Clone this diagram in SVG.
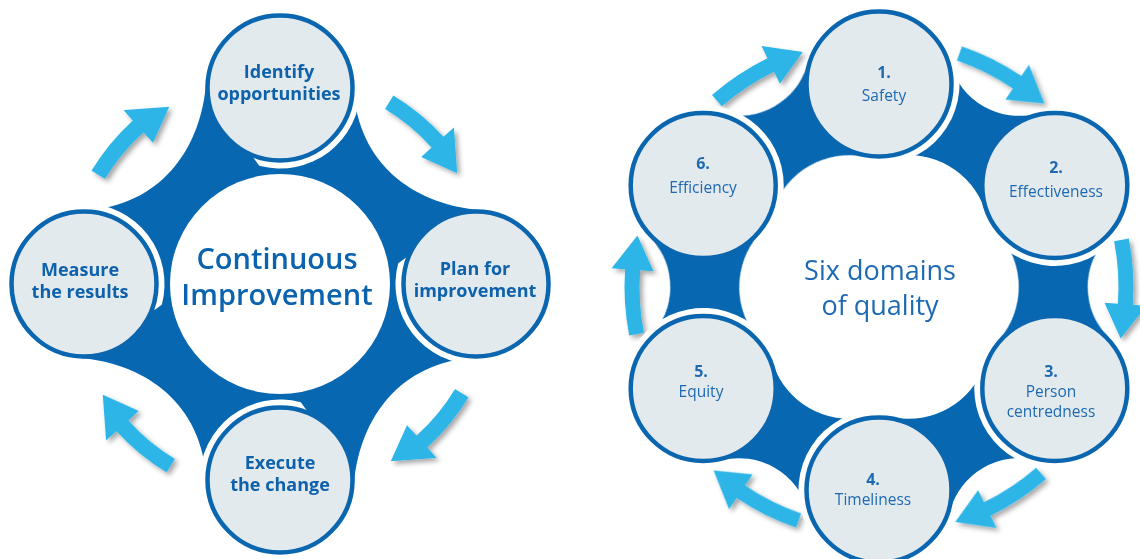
<svg xmlns="http://www.w3.org/2000/svg" xmlns:xlink="http://www.w3.org/1999/xlink" width="1140" height="559" viewBox="0 0 1140 559">
  <defs>
    <style>
      .blue{fill:#0767b1}
      .node{fill:#e3eaee;stroke:#0b66b0;stroke-width:4.5}
      .ring{fill:#ffffff}
      .arrow{fill:#2db5e8}
      .lbl{font-family:"Open Sans","Liberation Sans",sans-serif;font-weight:700;font-size:18px;fill:#0d62ab;text-anchor:middle}
      .num{font-family:"Open Sans","Liberation Sans",sans-serif;font-weight:700;font-size:16px;fill:#1d6ab2;text-anchor:middle}
      .dom{font-family:"Open Sans","Liberation Sans",sans-serif;font-weight:400;font-size:15.5px;fill:#1d6ab2;text-anchor:middle}
      .ttl1{font-family:"Open Sans","Liberation Sans",sans-serif;font-weight:600;font-size:29px;fill:#0b63ad;text-anchor:middle}
      .ttl2{font-family:"Open Sans","Liberation Sans",sans-serif;font-weight:400;font-size:27px;fill:#1d6ab2;text-anchor:middle}
    </style>
    <filter id="shadow" x="-20%" y="-20%" width="150%" height="150%">
      <feDropShadow dx="3" dy="3" stdDeviation="2.5" flood-color="#000" flood-opacity="0.35"/>
    </filter>
    <!-- curved arrow of the four-step cycle (upper-right position) -->
    <path id="arrowL" d="M393.3 95.4 A220 220 0 0 1 443.5 136.8 L453.9 127.4 L457.2 173.3 L421.2 156.9 L431.6 147.5 A204 204 0 0 0 385.1 109.1 Z"/>
    <!-- curved arrow of the six-domain ring (right position) -->
    <path id="arrowR" d="M1128.8 238.4 A254.5 254.5 0 0 1 1132.9 304.8 L1146.4 305.7 L1120.6 338.4 L1104.5 302.8 L1117.9 303.7 A239.5 239.5 0 0 0 1114.1 241.3 Z"/>
    <!-- concave bridge between domain 1 and domain 2 -->
    <path id="bridge" d="M879 84 L950.1 63.6 A72.1 72.1 0 0 0 1036.9 113.7 L1054.8 185.5 L984.8 209.55 A80.6 80.6 0 0 0 893.2 156.6 Z"/>
    <!-- white gap round a step circle (top circle orientation) -->
    <path id="ringL" d="M348.5 73.4 L360.5 88 A80.5 80.5 0 0 1 259.2 165.8 L248.2 150.4 Z"/>
    <!-- white gap round a domain circle (domain 1 orientation) -->
    <path id="ringR" d="M937 44.9 L953.6 53.8 A80.5 80.5 0 0 1 881.8 164.5 L866.8 152.9 Z"/>
  </defs>

  <rect width="1140" height="559" fill="#ffffff"/>

  <!-- ===== Continuous Improvement cycle ===== -->
  <g id="ci-body">
    <path class="blue" d="M354 95 C362 170 420 205 480 210 L469 358 C394 366 359 424 354 484 L206 473 C198 398 140 363 80 358 L91 210 C166 202 201 144 206 84 Z"/>
    <circle cx="280" cy="284" r="110" fill="#ffffff"/>
  </g>

  <g id="ci-connectors" class="arrow" filter="url(#shadow)">
    <use xlink:href="#arrowL"/>
    <use xlink:href="#arrowL" transform="rotate(90 280 284)"/>
    <use xlink:href="#arrowL" transform="rotate(180 280 284)"/>
    <use xlink:href="#arrowL" transform="rotate(270 280 284)"/>
  </g>

  <g id="ci-center">
    <text class="ttl1" x="277" y="269">Continuous</text>
    <text class="ttl1" x="277" y="305">Improvement</text>
  </g>

  <g id="ci-identify">
    <use class="ring" xlink:href="#ringL"/>
    <circle class="node" cx="280" cy="88" r="72.5"/>
    <text class="lbl" x="279" y="78">Identify</text>
    <text class="lbl" x="279" y="100">opportunities</text>
  </g>
  <g id="ci-plan">
    <use class="ring" xlink:href="#ringL" transform="rotate(90 280 284)"/>
    <circle class="node" cx="476" cy="284" r="72.5"/>
    <text class="lbl" x="475" y="275">Plan for</text>
    <text class="lbl" x="475" y="297">improvement</text>
  </g>
  <g id="ci-execute">
    <use class="ring" xlink:href="#ringL" transform="rotate(180 280 284)"/>
    <circle class="node" cx="280" cy="480" r="72.5"/>
    <text class="lbl" x="280" y="469">Execute</text>
    <text class="lbl" x="280" y="491">the change</text>
  </g>
  <g id="ci-measure">
    <use class="ring" xlink:href="#ringL" transform="rotate(270 280 284)"/>
    <circle class="node" cx="84" cy="284" r="72.5"/>
    <text class="lbl" x="80" y="276">Measure</text>
    <text class="lbl" x="80" y="298">the results</text>
  </g>

  <!-- ===== Six domains of quality ===== -->
  <g id="dq-body" class="blue">
    <use xlink:href="#bridge"/>
    <use xlink:href="#bridge" transform="rotate(60 879 287)"/>
    <use xlink:href="#bridge" transform="rotate(120 879 287)"/>
    <use xlink:href="#bridge" transform="rotate(180 879 287)"/>
    <use xlink:href="#bridge" transform="rotate(240 879 287)"/>
    <use xlink:href="#bridge" transform="rotate(300 879 287)"/>
  </g>

  <g id="dq-connectors" class="arrow" filter="url(#shadow)">
    <use xlink:href="#arrowR" transform="rotate(-120 879 287)"/>
    <use xlink:href="#arrowR" transform="rotate(-60 879 287)"/>
    <use xlink:href="#arrowR"/>
    <use xlink:href="#arrowR" transform="rotate(60 879 287)"/>
    <use xlink:href="#arrowR" transform="rotate(120 879 287)"/>
    <use xlink:href="#arrowR" transform="rotate(180 879 287)"/>
  </g>

  <g id="dq-center">
    <text class="ttl2" x="880" y="280">Six domains</text>
    <text class="ttl2" x="880" y="315">of quality</text>
  </g>

  <g id="dq-safety">
    <use class="ring" xlink:href="#ringR"/>
    <circle class="node" cx="879" cy="84" r="72.5"/>
    <text class="num" x="884" y="78">1.</text>
    <text class="dom" x="884" y="101">Safety</text>
  </g>
  <g id="dq-effectiveness">
    <use class="ring" xlink:href="#ringR" transform="rotate(60 879 287)"/>
    <circle class="node" cx="1054.8" cy="185.5" r="72.5"/>
    <text class="num" x="1056" y="173">2.</text>
    <text class="dom" x="1056" y="197">Effectiveness</text>
  </g>
  <g id="dq-person">
    <use class="ring" xlink:href="#ringR" transform="rotate(120 879 287)"/>
    <circle class="node" cx="1054.8" cy="388.5" r="72.5"/>
    <text class="num" x="1051" y="377">3.</text>
    <text class="dom" x="1051" y="397">Person</text>
    <text class="dom" x="1051" y="417">centredness</text>
  </g>
  <g id="dq-timeliness">
    <use class="ring" xlink:href="#ringR" transform="rotate(180 879 287)"/>
    <circle class="node" cx="879" cy="490" r="72.5"/>
    <text class="num" x="873" y="485">4.</text>
    <text class="dom" x="873" y="505">Timeliness</text>
  </g>
  <g id="dq-equity">
    <use class="ring" xlink:href="#ringR" transform="rotate(240 879 287)"/>
    <circle class="node" cx="703.2" cy="388.5" r="72.5"/>
    <text class="num" x="701" y="377">5.</text>
    <text class="dom" x="701" y="397">Equity</text>
  </g>
  <g id="dq-efficiency">
    <use class="ring" xlink:href="#ringR" transform="rotate(300 879 287)"/>
    <circle class="node" cx="703.2" cy="185.5" r="72.5"/>
    <text class="num" x="703" y="169">6.</text>
    <text class="dom" x="703" y="193">Efficiency</text>
  </g>
</svg>
